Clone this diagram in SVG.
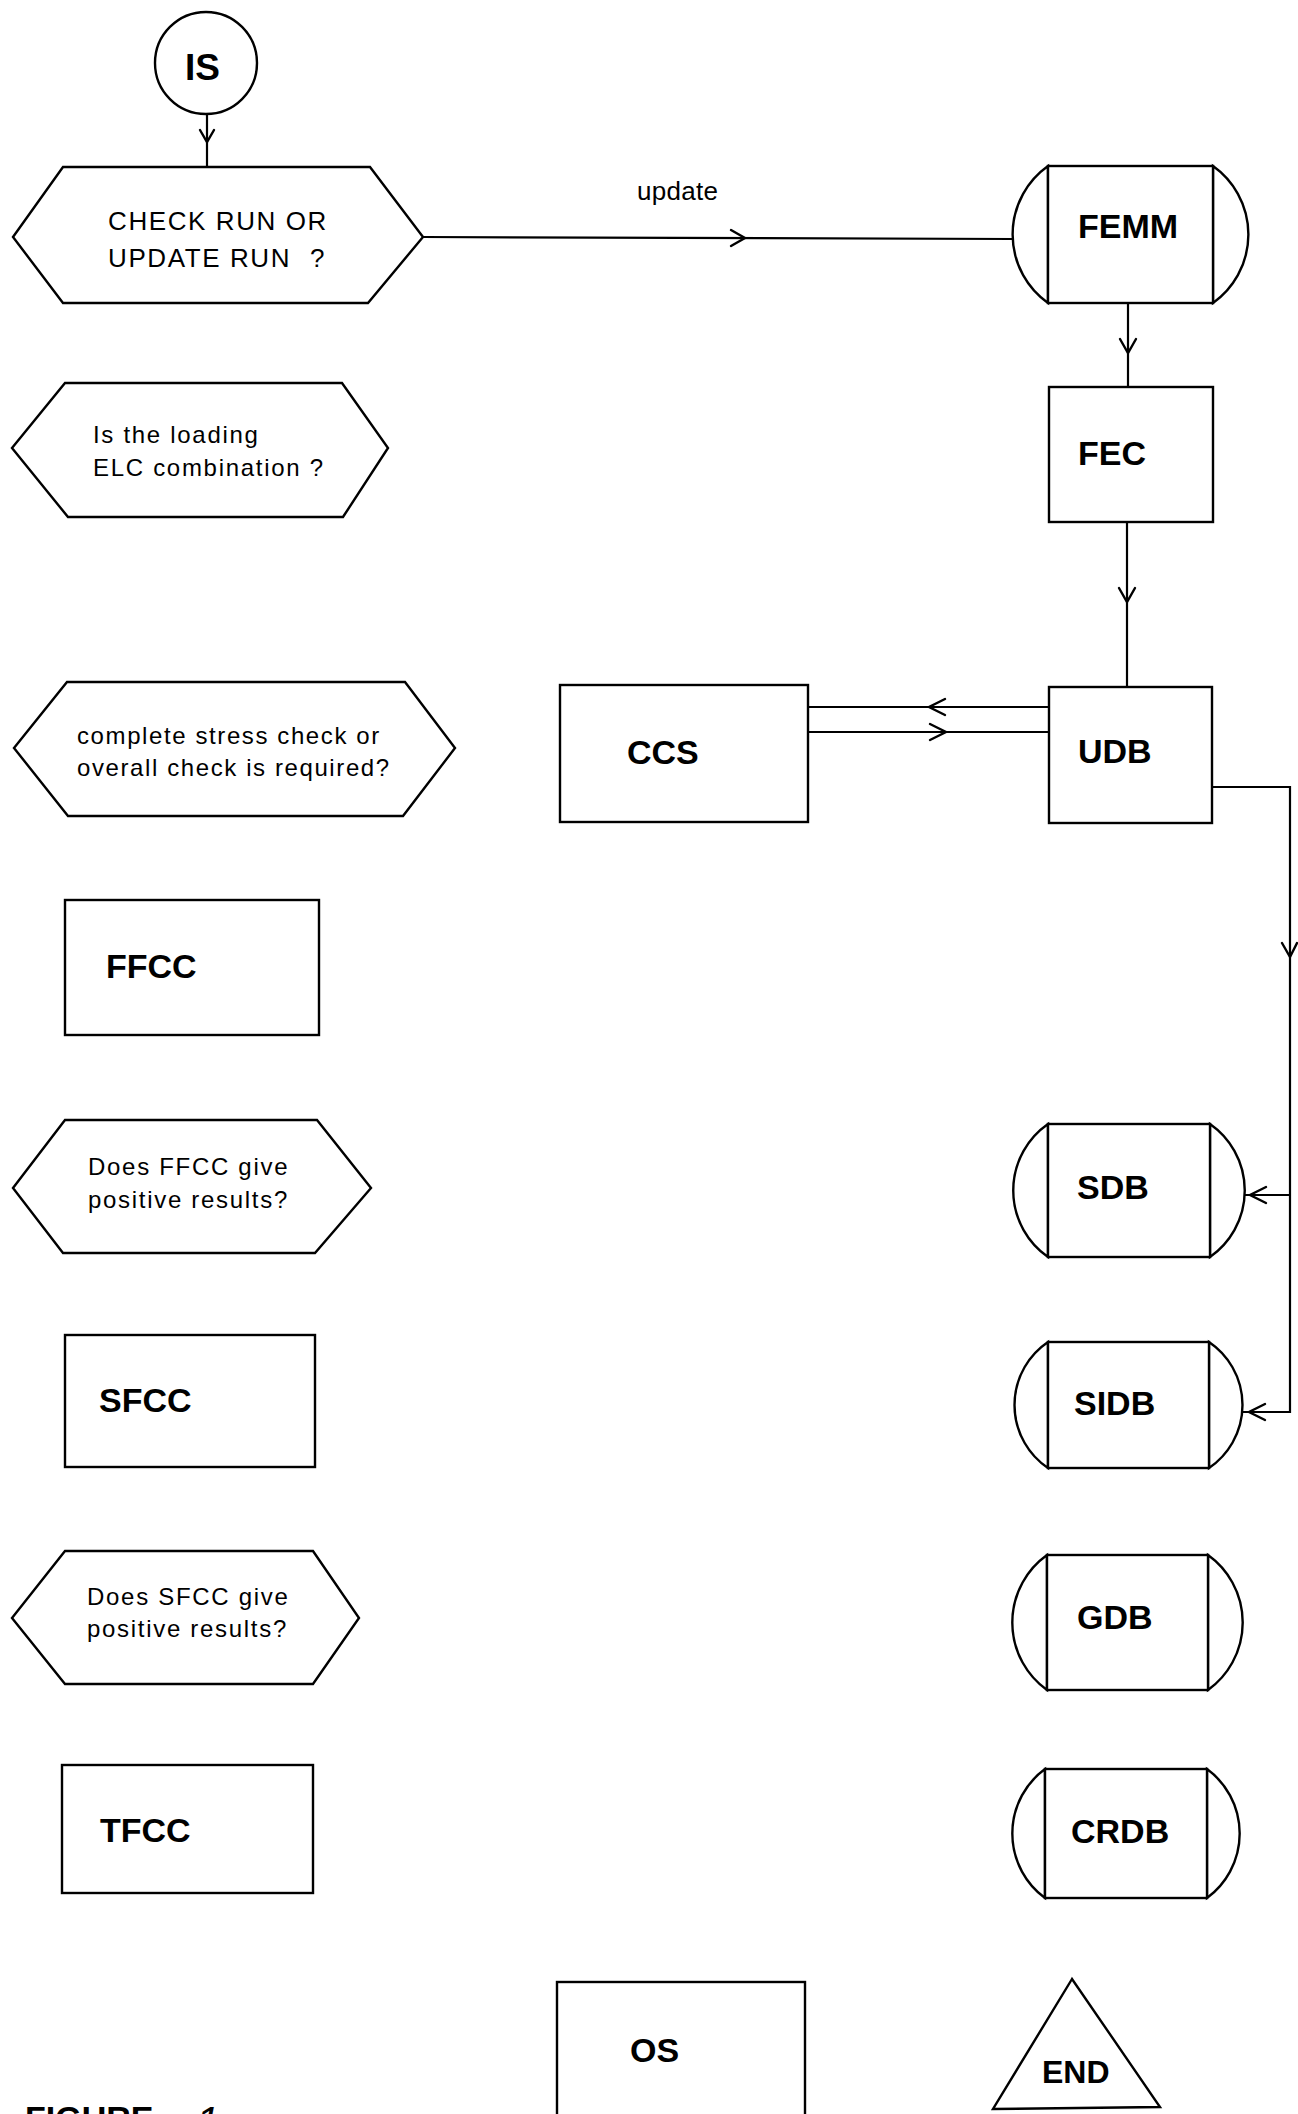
<svg xmlns="http://www.w3.org/2000/svg" width="1298" height="2114" viewBox="0 0 1298 2114">
<style>
.sh{fill:#fff;stroke:#000;stroke-width:2.4;stroke-linejoin:miter}
.ln{fill:none;stroke:#000;stroke-width:2.2}
.ch{fill:none;stroke:#000;stroke-width:2.4;stroke-linecap:round;stroke-linejoin:miter}
.b{font-family:"Liberation Sans",Arial,sans-serif;font-weight:bold;font-size:34px;fill:#000}
.q{font-family:"Liberation Sans",Arial,sans-serif;font-size:24px;letter-spacing:1.7px;fill:#000}
.q1{font-family:"Liberation Sans",Arial,sans-serif;font-size:26px;letter-spacing:1.6px;fill:#000}
</style>
<rect width="1298" height="2114" fill="#fff"/>
<g id="connectors">
<line class="ln" x1="207" y1="114" x2="207" y2="167"/>
<path class="ch" d="M200 130 L207 142 L214 130"/>
<line class="ln" x1="423" y1="237" x2="1013" y2="239"/>
<path class="ch" d="M731 230 L745 238 L731 246"/>
<text class="q1" x="637" y="200" style="letter-spacing:0.3px">update</text>
<line class="ln" x1="1128" y1="303" x2="1128" y2="387"/>
<path class="ch" d="M1120 339 L1128 353 L1136 339"/>
<line class="ln" x1="1127" y1="522" x2="1127" y2="687"/>
<path class="ch" d="M1119 588 L1127 602 L1135 588"/>
<line class="ln" x1="1049" y1="707" x2="808" y2="707"/>
<path class="ch" d="M945 699 L929 707 L945 715"/>
<line class="ln" x1="808" y1="732" x2="1049" y2="732"/>
<path class="ch" d="M930 724 L946 732 L930 740"/>
<polyline class="ln" points="1212,787 1290,787 1290,1412 1243,1412"/>
<path class="ch" d="M1282 943 L1290 957 L1297 943"/>
<line class="ln" x1="1290" y1="1195" x2="1244" y2="1195"/>
<path class="ch" d="M1266 1187 L1250 1195 L1266 1203"/>
<path class="ch" d="M1265 1404 L1249 1412 L1265 1420"/>
</g>
<g id="IS">
<circle class="sh" cx="206" cy="63" r="51"/>
<text class="b" x="185" y="80" style="font-size:37px">IS</text>
</g>
<g id="checkrun">
<polygon class="sh" points="13,237 63,167 370,167 423,237 368,303 63,303"/>
<text class="q1" x="108" y="230">CHECK RUN OR</text>
<text class="q1" x="108" y="267">UPDATE RUN</text>
<text class="q1" x="310" y="267">?</text>
</g>
<g id="loading">
<polygon class="sh" points="12,448 65,383 342,383 388,448 343,517 68,517"/>
<text class="q" x="93" y="443">Is the loading</text>
<text class="q" x="93" y="476">ELC combination ?</text>
</g>
<g id="stresscheck">
<polygon class="sh" points="14,748 67,682 405,682 455,748 403,816 68,816"/>
<text class="q" x="77" y="744" style="letter-spacing:1.6px">complete stress check or</text>
<text class="q" x="77" y="776" style="letter-spacing:1.6px">overall check is required?</text>
</g>
<g id="ffccq">
<polygon class="sh" points="13,1188 65,1120 317,1120 371,1188 315,1253 63,1253"/>
<text class="q" x="88" y="1175">Does FFCC give</text>
<text class="q" x="88" y="1208">positive results?</text>
</g>
<g id="sfccq">
<polygon class="sh" points="12,1618 65,1551 313,1551 359,1618 313,1684 65,1684"/>
<text class="q" x="87" y="1605">Does SFCC give</text>
<text class="q" x="87" y="1637">positive results?</text>
</g>
<g id="FFCC">
<rect class="sh" x="65" y="900" width="254" height="135"/>
<text class="b" x="106" y="978">FFCC</text>
</g>
<g id="SFCC">
<rect class="sh" x="65" y="1335" width="250" height="132"/>
<text class="b" x="99" y="1412">SFCC</text>
</g>
<g id="TFCC">
<rect class="sh" x="62" y="1765" width="251" height="128"/>
<text class="b" x="100" y="1842">TFCC</text>
</g>
<g id="FEMM">
<path class="sh" d="M1048 166 A84 84 0 0 0 1048 303 Z"/>
<path class="sh" d="M1213 166 A84 84 0 0 1 1213 303 Z"/>
<rect class="sh" x="1048" y="166" width="165" height="137"/>
<text class="b" x="1078" y="238">FEMM</text>
</g>
<g id="FEC">
<rect class="sh" x="1049" y="387" width="164" height="135"/>
<text class="b" x="1078" y="465">FEC</text>
</g>
<g id="CCS">
<rect class="sh" x="560" y="685" width="248" height="137"/>
<text class="b" x="627" y="764">CCS</text>
</g>
<g id="UDB">
<rect class="sh" x="1049" y="687" width="163" height="136"/>
<text class="b" x="1078" y="763">UDB</text>
</g>
<g id="SDB">
<path class="sh" d="M1048 1124 A81 81 0 0 0 1048 1257 Z"/>
<path class="sh" d="M1210 1124 A81 81 0 0 1 1210 1257 Z"/>
<rect class="sh" x="1048" y="1124" width="162" height="133"/>
<text class="b" x="1077" y="1199">SDB</text>
</g>
<g id="SIDB">
<path class="sh" d="M1048 1342 A76 76 0 0 0 1048 1468 Z"/>
<path class="sh" d="M1209 1342 A76 76 0 0 1 1209 1468 Z"/>
<rect class="sh" x="1048" y="1342" width="161" height="126"/>
<text class="b" x="1074" y="1415">SIDB</text>
</g>
<g id="GDB">
<path class="sh" d="M1047 1555 A83 83 0 0 0 1047 1690 Z"/>
<path class="sh" d="M1208 1555 A83 83 0 0 1 1208 1690 Z"/>
<rect class="sh" x="1047" y="1555" width="161" height="135"/>
<text class="b" x="1077" y="1629">GDB</text>
</g>
<g id="CRDB">
<path class="sh" d="M1045 1769 A80 80 0 0 0 1045 1898 Z"/>
<path class="sh" d="M1207 1769 A80 80 0 0 1 1207 1898 Z"/>
<rect class="sh" x="1045" y="1769" width="162" height="129"/>
<text class="b" x="1071" y="1843">CRDB</text>
</g>
<g id="OS">
<rect class="sh" x="557" y="1982" width="248" height="150"/>
<text class="b" x="630" y="2062">OS</text>
</g>
<g id="END">
<polygon class="sh" points="1072,1979 993,2109 1160,2107"/>
<text class="b" x="1042" y="2083" style="font-size:32px">END</text>
</g>
<g id="caption">
<text class="b" x="25" y="2130">FIGURE</text>
<text x="196" y="2136" style="font-family:'Liberation Sans',Arial,sans-serif;font-style:italic;font-size:42px;fill:#000">1</text>
</g>
</svg>
